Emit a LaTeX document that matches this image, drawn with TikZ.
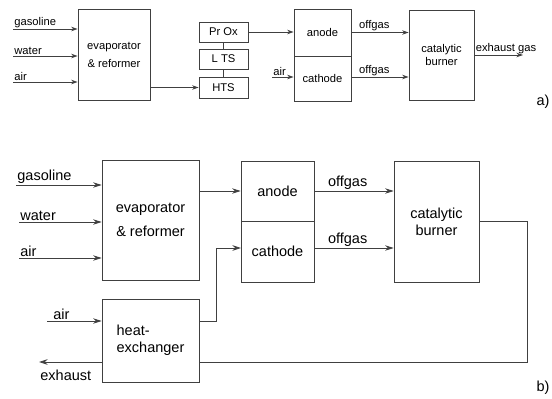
\documentclass[tikz,border=0pt]{standalone}
\usepackage{fontspec}
\setmainfont{Liberation Sans}
\usetikzlibrary{arrows.meta}

\begin{document}
\begin{tikzpicture}[x=1pt,y=-1pt,
   blk/.style={draw=black!75,line width=0.8pt,inner sep=0pt,align=center},
   flowa/.style={draw=black!75,line width=0.8pt,-{Stealth[length=6.5pt,width=4.5pt]}},
   flowb/.style={draw=black!75,line width=0.8pt,-{Stealth[length=8.5pt,width=5.5pt]}},
   pipe/.style={draw=black!75,line width=0.8pt},
   sma/.style={font=\fontsize{11.2}{13}\selectfont},
   big/.style={font=\fontsize{14.5}{17}\selectfont},
   lbl/.style={inner sep=1pt}]
   \useasboundingbox (0,0) rectangle (552,399);

   % a) with shift reactors
   \node[blk,sma,minimum width=72pt,minimum height=91pt,font=\fontsize{11.2}{18}\selectfont] (evapA) at (114,54.5) {evaporator\\\& reformer};
   \node[blk,sma,minimum width=49pt,minimum height=20pt] (proxA) at (223.5,32) {Pr Ox};
   \node[blk,sma,minimum width=49pt,minimum height=20pt] (ltsA) at (223.5,59) {L TS};
   \node[blk,sma,minimum width=49pt,minimum height=21pt] (htsA) at (223.5,87.5) {HTS};
   \node[blk,sma,minimum width=57pt,minimum height=47pt] (anodeA) at (322.5,32.5) {anode};
   \node[blk,sma,minimum width=57pt,minimum height=45pt] (cathA) at (322.5,78.5) {cathode};
   \node[blk,sma,minimum width=65pt,minimum height=90pt] (burnA) at (441.5,55) {catalytic\\burner};
   \node[big] (labA) at (543,102) {a)};

   \coordinate (gasA) at (13,29);
   \coordinate (watA) at (13,56);
   \coordinate (airA) at (13,82);
   \coordinate (airCA) at (272,77);
   \coordinate (outA) at (523,55);

   \draw[flowa] (gasA) node[lbl,sma,above right] (gasAtxt) {gasoline} -- (gasA -| evapA.west);
   \draw[flowa] (watA) node[lbl,sma,above right] (watAtxt) {water} -- (watA -| evapA.west);
   \draw[flowa] (airA) node[lbl,sma,above right] (airAtxt) {air} -- (airA -| evapA.west);
   \draw[flowa] (evapA.east |- htsA) -- (htsA.west);
   \draw[pipe] (htsA) -- (ltsA);
   \draw[pipe] (ltsA) -- (proxA);
   \draw[flowa] (proxA.east) -- (proxA.east -| anodeA.west);
   \draw[flowa] (airCA) node[lbl,sma,above right] (airCAtxt) {air} -- (airCA -| cathA.west);
   \draw[flowa] (anodeA.east) -- (anodeA.east -| burnA.west) node[lbl,sma,above,pos=0.4] (offAa) {offgas};
   \draw[flowa] (cathA.east |- airCA) -- (airCA -| burnA.west) node[lbl,sma,above,pos=0.4] (offAc) {offgas};
   \draw[flowa] (burnA.east) node[lbl,sma,above right] (exAtxt) {exhaust gas} -- (outA);

   % b) with heat exchanger
   \node[blk,big,minimum width=97pt,minimum height=120pt,font=\fontsize{14.5}{24}\selectfont] (evapB) at (150.5,220) {evaporator\\\& reformer};
   \node[blk,big,minimum width=73pt,minimum height=60pt] (anodeB) at (277.5,191) {anode};
   \node[blk,big,minimum width=73pt,minimum height=61pt] (cathB) at (277.5,251.5) {cathode};
   \node[blk,big,minimum width=85pt,minimum height=121pt] (burnB) at (436.5,221.5) {catalytic\\burner};
   \node[blk,big,minimum width=97pt,minimum height=83pt,align=left] (hexB) at (150.5,340.5) {heat-\\exchanger};
   \node[big] (labB) at (543,388) {b)};

   \coordinate (gasB) at (16,185);
   \coordinate (watB) at (19,222);
   \coordinate (airB) at (19,258);
   \coordinate (airHB) at (47,321);
   \coordinate (exhB) at (39,362);
   \coordinate (cinB) at (241,248);

   \draw[flowb] (gasB) node[lbl,big,above right] (gasBtxt) {gasoline} -- (gasB -| evapB.west);
   \draw[flowb] (watB) node[lbl,big,above right] (watBtxt) {water} -- (watB -| evapB.west);
   \draw[flowb] (airB) node[lbl,big,above right] (airBtxt) {air} -- (airB -| evapB.west);
   \draw[flowb] (evapB.east |- anodeB) -- (anodeB.west);
   \draw[flowb] (airHB) node[lbl,big,above right,xshift=5pt] (airHBtxt) {air} -- (airHB -| hexB.west);
   \draw[flowb] (hexB.west |- exhB) -- (exhB) node[lbl,big,below right,yshift=-7pt] (exhBtxt) {exhaust};
   \draw[flowb] (hexB.east |- airHB) -- ++(17,0) |- (cinB);
   \draw[flowb] (anodeB.east) -- (anodeB.east -| burnB.west) node[lbl,big,above,pos=0.42] (offBa) {offgas};
   \draw[flowb] (cathB.east |- cinB) -- (cinB -| burnB.west) node[lbl,big,above,pos=0.42] (offBc) {offgas};
   \draw[pipe] (burnB.east) -- ++(48,0) |- (exhB -| hexB.east);
\end{tikzpicture}
\end{document}
